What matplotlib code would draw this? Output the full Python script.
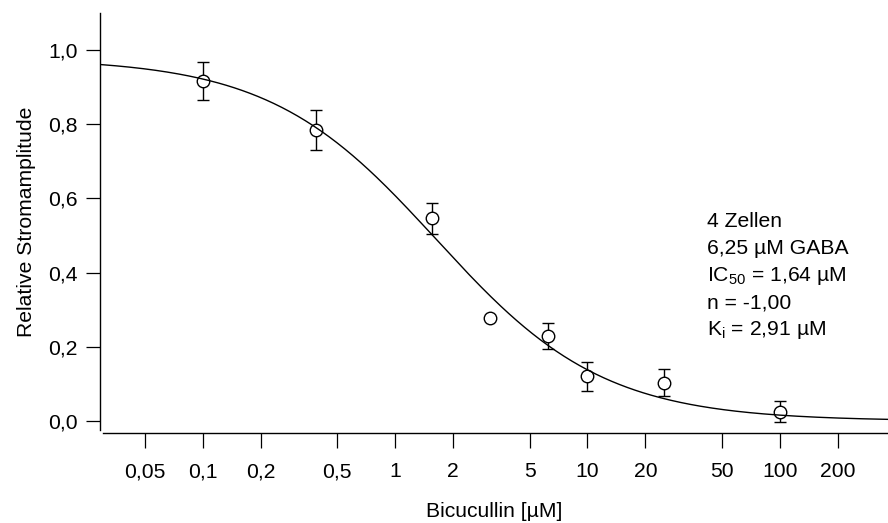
import matplotlib
matplotlib.use("Agg")
import matplotlib.pyplot as plt
import numpy as np
from matplotlib.ticker import FixedLocator, FixedFormatter, NullLocator

plt.rcParams["font.family"] = ["Liberation Sans", "DejaVu Sans"]
plt.rcParams["mathtext.fontset"] = "custom"
plt.rcParams["mathtext.rm"] = "Liberation Sans"
plt.rcParams["mathtext.it"] = "Liberation Sans:italic"

# measured points (Bicucullin concentration in uM, relative amplitude, SEM)
conc = [0.1, 0.39, 1.56, 3.125, 6.25, 10, 25, 100]
amp = [0.916, 0.784, 0.546, 0.277, 0.229, 0.121, 0.103, 0.025]
sem = [0.052, 0.053, 0.041, 0.0, 0.035, 0.039, 0.037, 0.029]

# fit parameters (Hill equation)
fit_top = 0.978
ic50 = 1.64
hill_n = -1.00

x_ticks = [0.05, 0.1, 0.2, 0.5, 1, 2, 5, 10, 20, 50, 100, 200]
x_labels = ["0,05", "0,1", "0,2", "0,5", "1", "2", "5", "10", "20", "50", "100", "200"]
y_ticks = [0.0, 0.2, 0.4, 0.6, 0.8, 1.0]
y_labels = ["0,0", "0,2", "0,4", "0,6", "0,8", "1,0"]

info_lines = [
    "4 Zellen",
    "6,25 µM GABA",
    "IC$_{50}$ = 1,64 µM",
    "n = -1,00",
    "K$_{\\mathrm{i}}$ = 2,91 µM",
]

W, H = 888, 523
fig = plt.figure(figsize=(W / 100, H / 100), dpi=100)
ax = fig.add_axes([100 / W, (H - 430) / H, 788 / W, 417 / H])

ax.set_xscale("log")
xmin, xmax = 0.02925, 364.7
ax.set_xlim(xmin, xmax)
ax.set_ylim(-0.0243, 1.0997)

xs = np.logspace(np.log10(xmin), np.log10(xmax), 400)
ys = fit_top / (1 + (xs / ic50) ** (-hill_n))
ax.plot(xs, ys, color="black", lw=1.0, zorder=4)

ax.errorbar(conc, amp, yerr=sem, fmt="o", ms=9, mfc="white", mec="black",
            mew=1.0, ecolor="black", elinewidth=1.0, capsize=4, capthick=1.0,
            zorder=3)

ax.xaxis.set_major_locator(FixedLocator(x_ticks))
ax.xaxis.set_major_formatter(FixedFormatter(x_labels))
ax.xaxis.set_minor_locator(NullLocator())
ax.yaxis.set_major_locator(FixedLocator(y_ticks))
ax.yaxis.set_major_formatter(FixedFormatter(y_labels))

for s in ["top", "right"]:
    ax.spines[s].set_visible(False)
ax.spines["left"].set_linewidth(1.0)
ax.spines["bottom"].set_linewidth(1.0)
ax.spines["bottom"].set_position(("outward", 2.2))
ax.spines["bottom"].set_bounds(0.0303, xmax)

fs = 15.2
ax.tick_params(axis="x", direction="out", length=11, width=0.9, pad=10, labelsize=fs)
ax.tick_params(axis="y", direction="out", length=10, width=0.9, pad=6, labelsize=fs)

ax.set_xlabel("Bicucullin [µM]", fontsize=fs, labelpad=15)
ax.set_ylabel("Relative Stromamplitude", fontsize=fs, labelpad=9)

for i, line in enumerate(info_lines):
    ax.text(0.7707, 0.4995 - i * 0.0647, line, transform=ax.transAxes,
            ha="left", va="center", fontsize=fs)

fig.savefig("out.png", dpi=100)
